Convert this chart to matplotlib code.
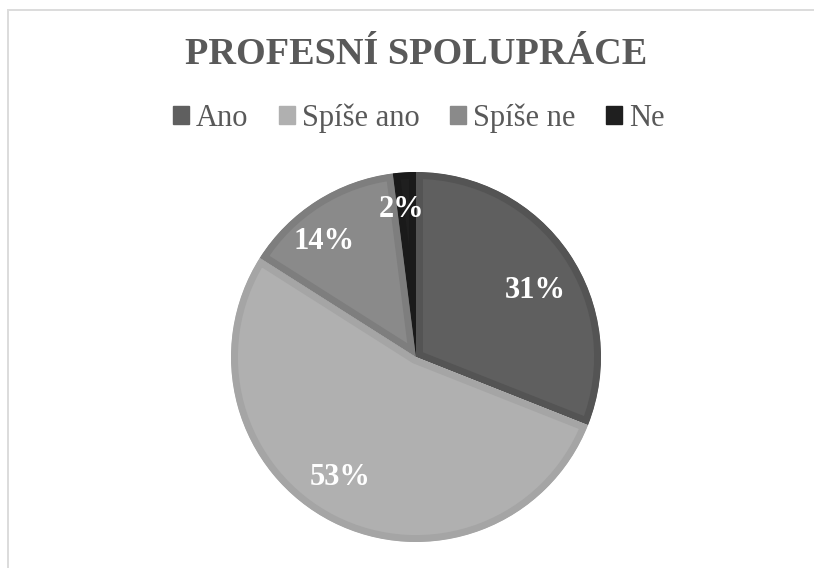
import matplotlib
matplotlib.use("Agg")
import matplotlib.pyplot as plt
from matplotlib.lines import Line2D
from matplotlib.patches import Patch
import numpy as np

categories = ["Ano", "Spíše ano", "Spíše ne", "Ne"]
values = [31, 53, 14, 2]
fill_colors = ["#5f5f5f", "#b0b0b0", "#8a8a8a", "#1f1f1f"]
edge_colors = ["#545454", "#a5a5a5", "#7e7e7e", "#1a1a1a"]
title = "PROFESNÍ SPOLUPRÁCE"

plt.rcParams['font.family'] = ['Liberation Serif', 'DejaVu Serif']

W, H = 814, 568
fig = plt.figure(figsize=(W / 100, H / 100), dpi=100)
fig.patch.set_facecolor("white")

# frame lines (top and left)
fig.add_artist(Line2D([7.5 / W, 1], [1 - 9.5 / H, 1 - 9.5 / H], color="#dcdcdc", lw=1.4))
fig.add_artist(Line2D([7.5 / W, 7.5 / W], [0, 1 - 9.5 / H], color="#dcdcdc", lw=1.4))

cx, cy, r = 416, 357, 185
ax = fig.add_axes([(cx - r) / W, (H - cy - r) / H, 2 * r / W, 2 * r / H])
wedges, _ = ax.pie(values, colors=fill_colors, startangle=90, counterclock=False,
                   radius=1.0, wedgeprops=dict(linewidth=10, joinstyle="miter"))
for w, ec in zip(wedges, edge_colors):
    w.set_edgecolor(ec)
    w.set_clip_path(w)
    w.set_clip_on(True)
ax.set_xlim(-1, 1)
ax.set_ylim(-1, 1)
ax.set_aspect("equal")
ax.axis("off")

# data labels
dists = [0.74, 0.77, 0.80, 0.80]
shifts = [-5, -5, 6, 2]  # degrees, best-fit style nudges
total = sum(values)
start = 90.0
for v, d, s in zip(values, dists, shifts):
    span = v / total * 360
    mid = np.deg2rad(start - span / 2 + s)
    start -= span
    ax.text(d * np.cos(mid), d * np.sin(mid), f"{v}%", ha="center", va="center",
            color="white", fontsize=22, fontweight="bold")

fig.text(416 / W, 1 - 54 / H, title, ha="center", va="center",
         fontsize=27.5, fontweight="bold", color="#595959")

handles = [Patch(facecolor=c, edgecolor=c) for c in fill_colors]
leg = fig.legend(handles, categories, loc="center", bbox_to_anchor=(419 / W, 1 - 118 / H),
                 ncol=4, frameon=False, fontsize=22, handlelength=0.5, handleheight=0.5,
                 handletextpad=0.25, columnspacing=1.0, labelcolor="#595959")

fig.savefig("out.png", dpi=100, facecolor="white")
